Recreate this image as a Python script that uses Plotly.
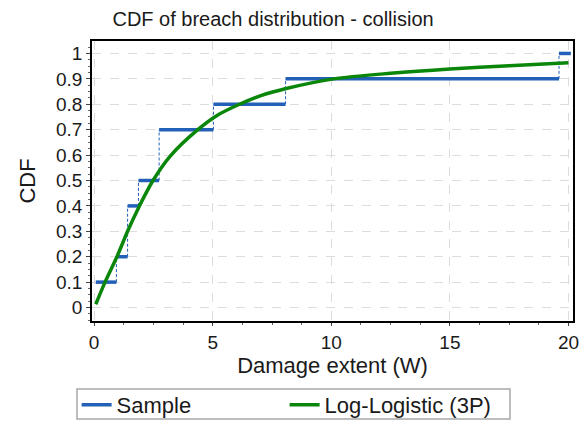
import plotly.graph_objects as go

step_levels = [0.1, 0.2, 0.4, 0.5, 0.7, 0.8, 0.9, 1.0]
step_starts = [0.07, 0.94, 1.41, 1.87, 2.74, 5.03, 8.07, 19.6]
step_ends = [0.94, 1.41, 1.87, 2.74, 5.03, 8.07, 19.6, 20.1]

# Fitted Log-Logistic (3P) CDF points
fit_x = [0.07, 0.46, 0.985, 1.41, 1.9, 2.47, 3.2, 4.37, 5.2, 6.13, 7.0, 8.1, 10.1, 12.5, 15, 17.5, 20]
fit_y = [0.013, 0.10, 0.205, 0.30, 0.398, 0.498, 0.595, 0.70, 0.757, 0.80, 0.833, 0.862, 0.90, 0.922, 0.939, 0.952, 0.963]

x_ticks = [0, 5, 10, 15, 20]
y_ticks = [0, 0.1, 0.2, 0.3, 0.4, 0.5, 0.6, 0.7, 0.8, 0.9, 1]
y_ticklabels = ["0", "0.1", "0.2", "0.3", "0.4", "0.5", "0.6", "0.7", "0.8", "0.9", "1"]

BLUE = "#2360b8"
GREEN = "#0a870a"
FONT = "Arial, Liberation Sans, sans-serif"

hx, hy = [], []
for s, e, lv in zip(step_starts, step_ends, step_levels):
    hx += [s, e, None]
    hy += [lv, lv, None]

vx, vy = [], []
for i in range(1, len(step_levels)):
    vx += [step_starts[i], step_starts[i], None]
    vy += [step_levels[i - 1], step_levels[i], None]

fig = go.Figure()
fig.add_trace(go.Scatter(x=vx, y=vy, mode="lines", showlegend=False,
                         line=dict(color=BLUE, width=1, dash="3px,2px"), hoverinfo="skip"))
fig.add_trace(go.Scatter(x=hx, y=hy, mode="lines", name="Sample",
                         line=dict(color=BLUE, width=3.5)))
fig.add_trace(go.Scatter(x=fit_x, y=fit_y, mode="lines", name="Log-Logistic (3P)",
                         line=dict(color=GREEN, width=3.5, shape="spline", smoothing=0.8)))

# legend frame (plot area: x 92..573, y 41..321 px)
fig.add_shape(type="rect", xref="paper", yref="paper",
              x0=(77 - 92) / 481, x1=(510 - 92) / 481,
              y0=(321 - 419) / 280, y1=(321 - 389) / 280,
              line=dict(color="#a8a8a8", width=1.5), fillcolor="rgba(0,0,0,0)", layer="above")

fig.update_layout(
    width=581, height=423,
    margin=dict(l=92, r=8, t=41, b=102, autoexpand=False),
    paper_bgcolor="white", plot_bgcolor="white",
    font=dict(family=FONT, size=19, color="#1a1a1a"),
    title=dict(text="CDF of breach distribution - collision", x=0.47, xanchor="center",
               y=0.955, yanchor="middle", xref="container", yref="container",
               font=dict(size=20, color="#1a1a1a")),
    legend=dict(orientation="h", x=-0.032, xanchor="left", y=(321 - 405) / 280, yanchor="middle",
                borderwidth=0, bgcolor="rgba(0,0,0,0)", font=dict(size=22),
                entrywidth=163, entrywidthmode="pixels", itemwidth=30,
                tracegroupgap=0),
    showlegend=True,
)
fig.update_xaxes(
    range=[-0.09, 20.19], tickvals=x_ticks, ticks="outside", ticklen=3,
    tickcolor="#444", showline=True, linecolor="black", linewidth=1.5, mirror=True,
    showgrid=True, gridcolor="#dcdcdc", griddash="dash", zeroline=False,
    title=dict(text="Damage extent (W)", font=dict(size=22), standoff=4),
    tickfont=dict(size=19),
    minor=dict(dtick=1.25, tick0=0, ticks="outside", ticklen=2, tickcolor="#666", showgrid=False),
)
fig.update_yaxes(
    range=[-0.053, 1.049], tickvals=y_ticks, ticktext=y_ticklabels, ticks="outside",
    ticklen=4, tickcolor="#444", showline=True, linecolor="black", linewidth=1.5, mirror=True,
    showgrid=True, gridcolor="#dcdcdc", griddash="dash", zeroline=False,
    title=dict(text="CDF", font=dict(size=22), standoff=14),
    tickfont=dict(size=19),
    minor=dict(dtick=0.025, tick0=0, ticks="outside", ticklen=2, tickcolor="#666", showgrid=False),
)

fig.write_html("out.html", config={"displayModeBar": False},
               post_script="document.body.style.margin='0';document.body.style.overflow='hidden';")
